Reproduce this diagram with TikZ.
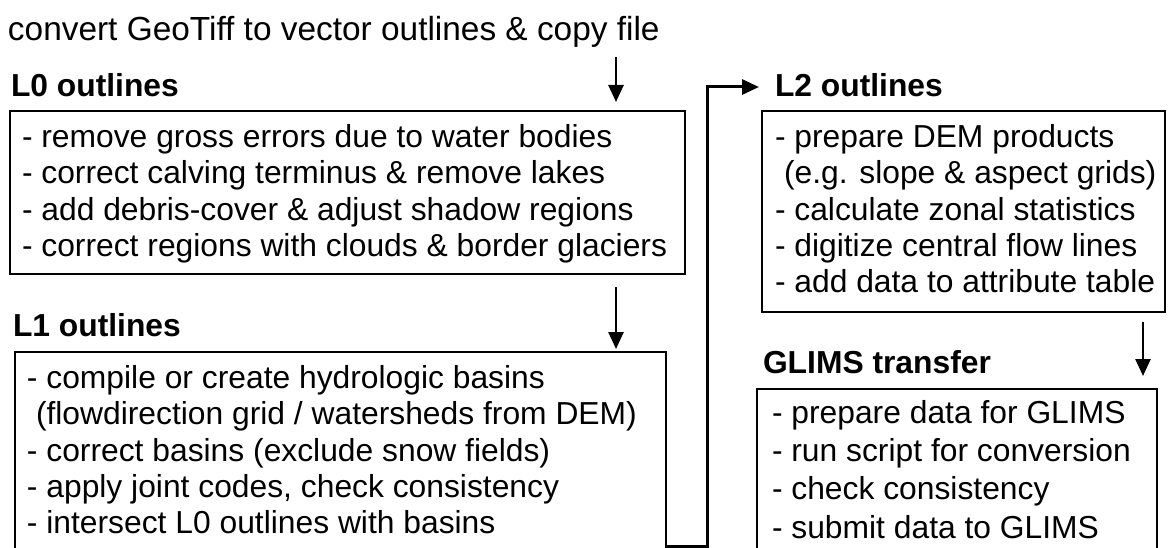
\documentclass[tikz,border=0pt]{standalone}
\usepackage{fontspec}
\setmainfont{Liberation Sans}
\usetikzlibrary{arrows.meta}
\begin{document}
\begin{tikzpicture}[x=1pt,y=-1pt,
  every node/.style={inner sep=0pt, outer sep=0pt},
  txt/.style={anchor=base west, font=\fontsize{31.8}{36}\selectfont},
  head/.style={anchor=base west, font=\fontsize{31.8}{36}\selectfont\bfseries},
  frame/.style={draw, line width=1.4pt, anchor=north west},
  flow/.style={line width=2.6pt, -{Triangle[length=17pt,width=15pt]}},
]
\useasboundingbox (0,0) rectangle (1168,548);
\clip (0,0) rectangle (1168,548);

% title
\node[txt, font=\fontsize{33.4}{38}\selectfont] (title) at (8,41) {convert GeoTiff to vector outlines \& copy file};

% L0
\node[head] (l0lbl) at (11,97) {L0 outlines};
\node[frame, minimum width=675pt, minimum height=163pt] (l0box) at (10,111) {};
\node[txt] (l0a) at (22,147.5) {- remove gross errors due to water bodies};
\node[txt] (l0b) at (22,183.8) {- correct calving terminus \& remove lakes};
\node[txt] (l0c) at (22,220.1) {- add debris-cover \& adjust shadow regions};
\node[txt] (l0d) at (22,256.4) {- correct regions with clouds \& border glaciers};

% L1
\node[head] (l1lbl) at (13,337) {L1 outlines};
\node[frame, minimum width=651pt, minimum height=200pt] (l1box) at (15,352) {};
\node[txt] (l1a) at (27,388.5) {- compile or create hydrologic basins};
\node[txt] (l1b) at (36,424.8) {(flowdirection grid / watersheds from DEM)};
\node[txt] (l1c) at (27,461.1) {- correct basins (exclude snow fields)};
\node[txt] (l1d) at (27,497.4) {- apply joint codes, check consistency};
\node[txt] (l1e) at (27,533.7) {- intersect L0 outlines with basins};

% L2
\node[head] (l2lbl) at (775,97) {L2 outlines};
\node[frame, minimum width=403pt, minimum height=201pt] (l2box) at (762,111) {};
\node[txt] (l2a) at (775,147.5) {- prepare DEM products};
\node[txt] (l2b) at (784,183.8) {(e.g. slope \& aspect grids)};
\node[txt] (l2c) at (775,220.1) {- calculate zonal statistics};
\node[txt] (l2d) at (775,256.4) {- digitize central flow lines};
\node[txt] (l2e) at (775,292.7) {- add data to attribute table};

% GLIMS
\node[head] (gllbl) at (763,373) {GLIMS transfer};
\node[frame, minimum width=400pt, minimum height=170pt] (glbox) at (757,389) {};
\node[txt] (gla) at (772,423) {- prepare data for GLIMS};
\node[txt] (glb) at (772,461.3) {- run script for conversion};
\node[txt] (glc) at (772,499.6) {- check consistency};
\node[txt] (gld) at (772,538) {- submit data to GLIMS};

% connectors
\coordinate (a0) at (616,57);
\coordinate (a1) at (616,102);
\coordinate (b0) at (616,287);
\coordinate (b1) at (616,349);
\coordinate (c0) at (1143,322);
\coordinate (c1) at (1143,376);
\coordinate (d0) at (666,546);
\coordinate (d1) at (707,546);
\coordinate (d2) at (707,87);
\coordinate (d3) at (759,87);

\draw[flow] (a0) -- (a1);
\draw[flow] (b0) -- (b1);
\draw[flow] (c0) -- (c1);
\draw[line width=3pt, -{Triangle[length=17pt,width=15pt]}] (d0) -- (d1) -- (d2) -- (d3);
\end{tikzpicture}
\end{document}
